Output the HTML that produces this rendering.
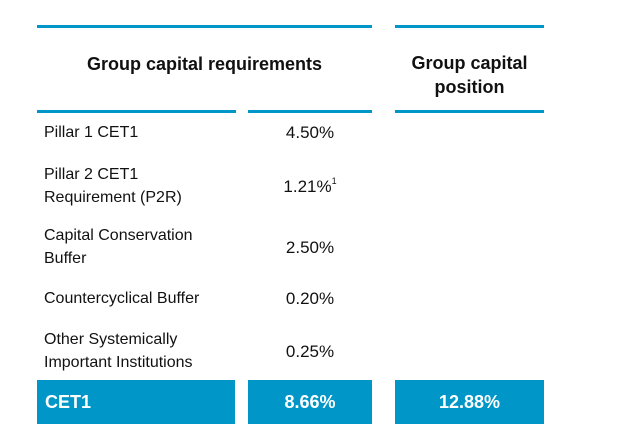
<!DOCTYPE html>
<html><head><meta charset="utf-8"><style>
body{margin:0;width:640px;height:431px;background:#fff;position:relative;overflow:hidden;font-family:"Liberation Sans",Arial,sans-serif;color:#111}
.ln{position:absolute;height:3px;background:#0096c8}
.t{position:absolute;font-size:16px;line-height:23px;white-space:nowrap}
.v{position:absolute;font-size:17px;line-height:23px;text-align:center;width:124px;left:248px}
.h{position:absolute;font-size:18px;font-weight:bold;text-align:center;line-height:24px}
.box{position:absolute;top:380px;height:44px;background:#0096c8;color:#fff;font-weight:bold;font-size:18px;line-height:44px}
</style></head><body>
<div class="ln" style="left:37px;top:25px;width:335px"></div>
<div class="ln" style="left:395px;top:25px;width:149px"></div>
<div class="h" style="left:37px;top:52px;width:335px">Group capital requirements</div>
<div class="h" style="left:395px;top:51px;width:149px">Group capital<br>position</div>
<div class="ln" style="left:37px;top:110px;width:199px"></div>
<div class="ln" style="left:248px;top:110px;width:124px"></div>
<div class="ln" style="left:395px;top:110px;width:149px"></div>

<div class="t" style="left:44px;top:121px">Pillar 1 CET1</div>
<div class="v" style="top:121px">4.50%</div>
<div class="t" style="left:44px;top:163px">Pillar 2 CET1<br>Requirement (P2R)</div>
<div class="v" style="top:175px">1.21%<sup style="font-size:9px;vertical-align:8px;line-height:0">1</sup></div>
<div class="t" style="left:44px;top:224px">Capital Conservation<br>Buffer</div>
<div class="v" style="top:236px">2.50%</div>
<div class="t" style="left:44px;top:287px">Countercyclical Buffer</div>
<div class="v" style="top:287px">0.20%</div>
<div class="t" style="left:44px;top:328px">Other Systemically<br>Important Institutions</div>
<div class="v" style="top:340px">0.25%</div>

<div class="box" style="left:37px;width:198px"><span style="padding-left:8px">CET1</span></div>
<div class="box" style="left:248px;width:124px;text-align:center">8.66%</div>
<div class="box" style="left:395px;width:149px;text-align:center">12.88%</div>
</body></html>
